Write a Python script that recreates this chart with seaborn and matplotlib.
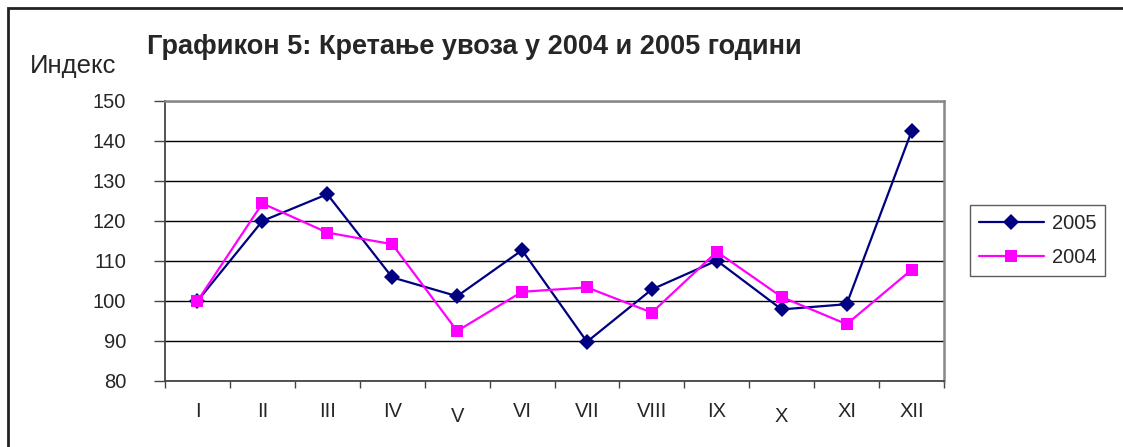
import numpy as np
import pandas as pd
import matplotlib
matplotlib.use("Agg")
import matplotlib.pyplot as plt
import matplotlib.transforms as mtransforms
from matplotlib.patches import Rectangle
import seaborn as sns

months = ["I", "II", "III", "IV", "V", "VI", "VII", "VIII", "IX", "X", "XI", "XII"]
idx_2005 = [100.0, 120.0, 126.7, 105.9, 101.2, 112.7, 89.8, 102.9, 110.1, 97.9, 99.2, 142.4]
idx_2004 = [100.0, 124.4, 117.1, 114.2, 92.5, 102.3, 103.4, 97.1, 112.3, 101.0, 94.2, 107.8]
yticks = [80, 90, 100, 110, 120, 130, 140, 150]

sns.set_theme(style="white")
plt.rcParams['font.family'] = ['Liberation Sans', 'DejaVu Sans']

fig = plt.figure(figsize=(11.23, 4.47), dpi=100)
ax = fig.add_axes([165/1123, 66/447, (944-165)/1123, (381-101)/447])

pos = np.arange(len(months))
df = pd.DataFrame({
    "pos": np.concatenate([pos, pos]),
    "val": idx_2005 + idx_2004,
    "year": ["2005"] * len(months) + ["2004"] * len(months),
})

sns.lineplot(data=df[df.year == "2005"], x="pos", y="val", ax=ax, color="#000080",
             marker="D", markersize=8, markeredgewidth=0, linewidth=1.6, label="2005")
sns.lineplot(data=df[df.year == "2004"], x="pos", y="val", ax=ax, color="#FF00FF",
             marker="s", markersize=8.5, markeredgewidth=0, linewidth=1.6, label="2004")

ax.set_xlim(-0.5, len(months) - 0.5)
ax.set_ylim(80, 150)
ax.set_yticks(yticks)
ax.set_yticklabels([str(v) for v in yticks], fontsize=14.5)
ax.yaxis.grid(True, color="black", linewidth=1.0)
ax.set_axisbelow(True)

ax.set_xticks(pos)
ax.set_xticklabels(months, fontsize=14.5)
ax.set_xticks(np.arange(-0.5, len(months), 1.0), minor=True)
ax.tick_params(axis="x", which="major", length=0, pad=15)
ax.tick_params(axis="x", which="minor", length=5, width=1, color="#444444", direction="out", bottom=True)
ax.tick_params(axis="y", length=8, width=1, color="#444444", direction="out", left=True, pad=20)

for lab in ax.get_xticklabels():
    if lab.get_text() in ("V", "X"):
        lab.set_transform(lab.get_transform() + mtransforms.ScaledTranslation(0, -5/100, fig.dpi_scale_trans))

ax.set_xlabel("")
ax.set_ylabel("")
for side in ["left", "bottom"]:
    ax.spines[side].set_color("#444444")
    ax.spines[side].set_linewidth(1.3)
for side in ["top", "right"]:
    ax.spines[side].set_color("#888888")
    ax.spines[side].set_linewidth(1.8)

leg = ax.legend(loc="upper left", bbox_to_anchor=(970/1123, 1 - 205/447),
                bbox_transform=fig.transFigure, fontsize=14.5, frameon=True, fancybox=False,
                handlelength=3.2, handletextpad=0.4, borderpad=0.45, labelspacing=0.75,
                borderaxespad=0)
leg.get_frame().set_edgecolor("#333333")
leg.get_frame().set_linewidth(1.0)

fig.text(147/1123, 1 - 47/447, "Графикон 5: Кретање увоза у 2004 и 2005 години",
         fontsize=19.5, fontweight="bold", ha="left", va="center")
fig.text(30/1123, 1 - 66/447, "Индекс", fontsize=18.5, ha="left", va="center")

fig.patches.append(Rectangle((8/1123, -0.1), 1.2, 1 - 8/447 + 0.1, transform=fig.transFigure,
                             fill=False, edgecolor="#222222", linewidth=2))

fig.savefig("out.png", dpi=100)
